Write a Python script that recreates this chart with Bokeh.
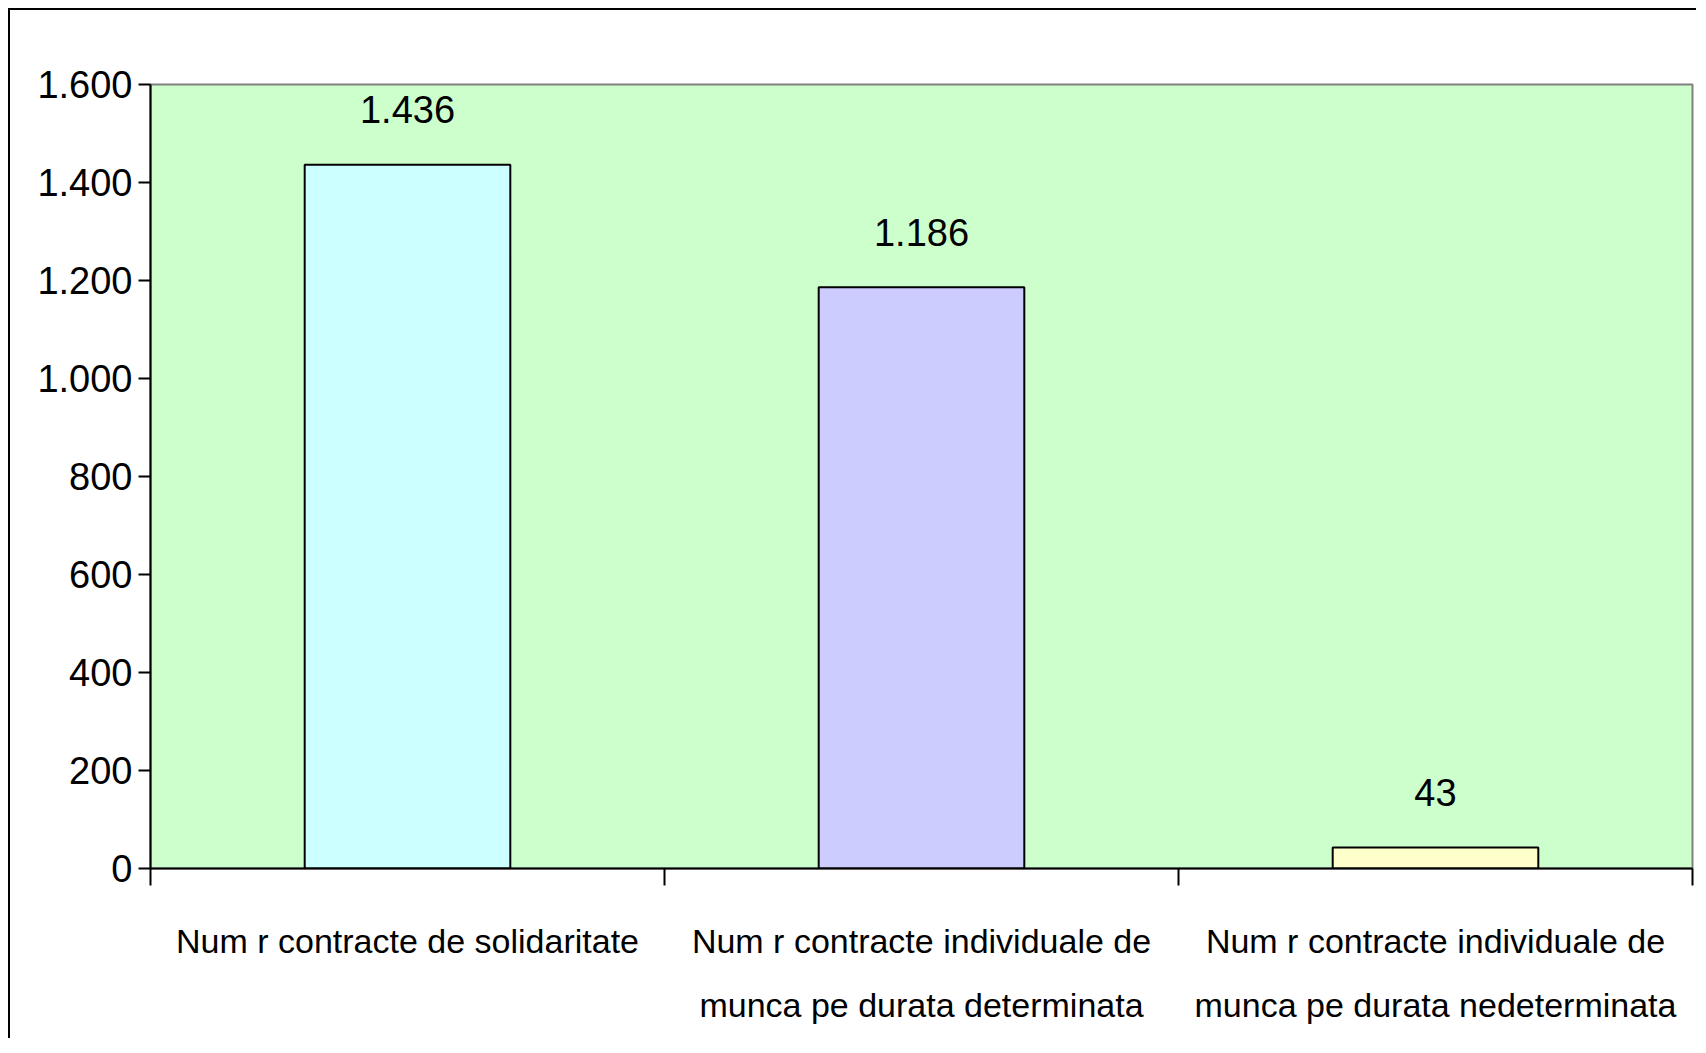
from bokeh.plotting import figure
from bokeh.models import Range1d, FixedTicker, ColumnDataSource
from bokeh.core.properties import value
from bokeh.embed import file_html
from bokeh.resources import INLINE

categories = [
    "Num r contracte de solidaritate",
    "Num r contracte individuale de\nmunca pe durata determinata",
    "Num r contracte individuale de\nmunca pe durata nedeterminata",
]
values = [1436, 1186, 43]
value_labels = ["1.436", "1.186", "43"]
bar_colors = ["#CCFFFF", "#CCCCFF", "#FFFFCC"]
y_ticks = [0, 200, 400, 600, 800, 1000, 1200, 1400, 1600]
y_tick_labels = ["0", "200", "400", "600", "800", "1.000", "1.200", "1.400", "1.600"]

FONT = "Liberation Sans"

xs = [i + 0.5 for i in range(len(categories))]
src = ColumnDataSource(dict(x=xs, top=values, color=bar_colors, label=value_labels))

p = figure(
    output_backend="svg", toolbar_location=None,
    frame_width=1542, frame_height=784,
    min_border_left=140, min_border_top=74, min_border_right=4, min_border_bottom=170,
    x_range=Range1d(0, len(categories)), y_range=Range1d(0, 1600),
    background_fill_color="#CCFFCC", border_fill_color="white",
)
p.styles = {"border-left": "2px solid black", "border-top": "2px solid black",
            "margin-left": "8px", "margin-top": "8px"}
p.outline_line_color = "#808080"
p.outline_line_width = 2
p.xgrid.visible = False
p.ygrid.visible = False

p.vbar(x="x", top="top", bottom=0, width=0.4, fill_color="color",
       line_color="black", line_width=2, source=src)
p.text(x="x", y="top", text="label", source=src,
       text_font=value(FONT), text_font_size="38px", text_color="black",
       text_align="center", text_baseline="alphabetic", y_offset=-55)

# y axis
p.yaxis.ticker = FixedTicker(ticks=y_ticks)
p.yaxis.major_label_overrides = {t: l for t, l in zip(y_ticks, y_tick_labels)}
p.yaxis.major_label_text_font = FONT
p.yaxis.major_label_text_font_size = "38px"
p.yaxis.major_label_text_color = "black"
p.yaxis.axis_line_color = "black"
p.yaxis.axis_line_width = 2
p.yaxis.major_tick_line_color = "black"
p.yaxis.major_tick_line_width = 2
p.yaxis.major_tick_out = 12
p.yaxis.major_tick_in = 0
p.yaxis.minor_tick_line_color = None
p.yaxis.major_label_standoff = 6

# x axis
p.xaxis.ticker = FixedTicker(ticks=xs, minor_ticks=list(range(len(categories) + 1)))
p.xaxis.major_label_overrides = {x: c for x, c in zip(xs, categories)}
p.xaxis.major_label_text_font = FONT
p.xaxis.major_label_text_font_size = "34px"
p.xaxis.major_label_text_color = "black"
p.xaxis.major_label_text_line_height = 1.7
p.xaxis.axis_line_color = "black"
p.xaxis.axis_line_width = 2
p.xaxis.major_tick_line_color = None
p.xaxis.major_tick_out = 0
p.xaxis.major_tick_in = 0
p.xaxis.minor_tick_line_color = "black"
p.xaxis.minor_tick_line_width = 2
p.xaxis.minor_tick_out = 17
p.xaxis.minor_tick_in = 0
p.xaxis.major_label_standoff = 36

open("out.html", "w").write(file_html(p, INLINE))
